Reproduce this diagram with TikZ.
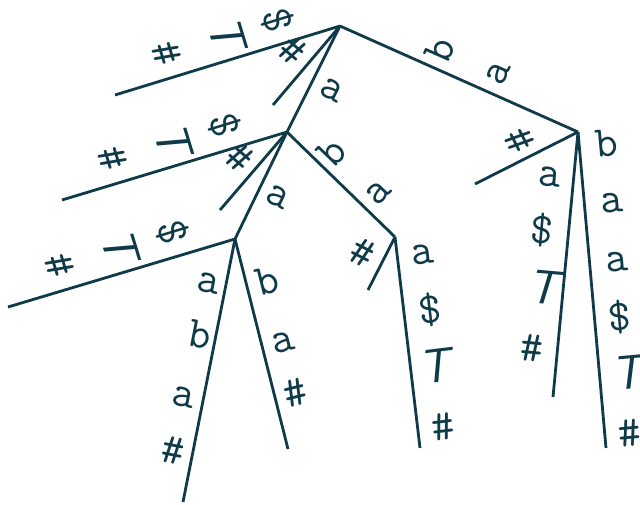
\documentclass[tikz,border=0pt]{standalone}
\usepackage{fontspec}
\definecolor{ink}{RGB}{14,58,74}
\tikzset{
  edge/.style={draw=ink, line width=2.8pt},
  lbl/.style={text=ink, font=\fontsize{44}{48}\selectfont\ttfamily, inner sep=0pt, anchor=center},
}
\newcommand{\TT}{{\fontsize{48}{52}\selectfont\sffamily\itshape T}}
\begin{document}
\begin{tikzpicture}[x=1pt,y=-1pt]
\useasboundingbox (0,0) rectangle (640,504);
% tree nodes
\coordinate (R) at (340,26);
\coordinate (L1) at (115,95);
\coordinate (S1) at (273,105);
\coordinate (N1) at (287,132);
\coordinate (N4) at (578,132);
\coordinate (L2) at (62,200);
\coordinate (S2) at (220,210);
\coordinate (N2) at (235,239);
\coordinate (N3) at (395,237);
\coordinate (L3) at (8,307);
\coordinate (L4) at (183,502);
\coordinate (L5) at (288,449);
\coordinate (S3) at (368,290);
\coordinate (L6) at (420,448);
\coordinate (S4) at (475,184);
\coordinate (L7) at (553,397);
\coordinate (L8) at (606,448);
% edges
\draw[edge] (R) -- (L1);
\draw[edge] (R) -- (S1);
\draw[edge] (R) -- (N1);
\draw[edge] (R) -- (N4);
\draw[edge] (N1) -- (L2);
\draw[edge] (N1) -- (S2);
\draw[edge] (N1) -- (N2);
\draw[edge] (N1) -- (N3);
\draw[edge] (N2) -- (L3);
\draw[edge] (N2) -- (L4);
\draw[edge] (N2) -- (L5);
\draw[edge] (N3) -- (S3);
\draw[edge] (N3) -- (L6);
\draw[edge] (N4) -- (S4);
\draw[edge] (N4) -- (L7);
\draw[edge] (N4) -- (L8);
% labels R-L1
\node[lbl, rotate=-73] (t1) at (278,20) {\$};
\node[lbl, rotate=-73] (t2) at (227,33) {\TT};
\node[lbl, rotate=-73] (t3) at (167,53) {\#};
% R-S1
\node[lbl, rotate=-40] (t4) at (293,50) {\#};
% R-N1
\node[lbl, rotate=-27] (t5) at (332,90) {a};
% R-N4
\node[lbl, rotate=66] (t6) at (440,50) {b};
\node[lbl, rotate=66] (t7) at (498,73) {a};
% N1-L2
\node[lbl, rotate=-73] (t8) at (225,125) {\$};
\node[lbl, rotate=-73] (t9) at (173,139) {\TT};
\node[lbl, rotate=-73] (t10) at (113,158) {\#};
% N1-S2
\node[lbl, rotate=-41] (t11) at (240,158) {\#};
% N1-N2
\node[lbl, rotate=-26] (t12) at (278,197) {a};
% N1-N3
\node[lbl, rotate=46] (t13) at (332,152) {b};
\node[lbl, rotate=46] (t14) at (378,193) {a};
% N2-L3
\node[lbl, rotate=-73] (t15) at (173,232) {\$};
\node[lbl, rotate=-73] (t16) at (120,245) {\TT};
\node[lbl, rotate=-73] (t17) at (60,265) {\#};
% N2-L4
\node[lbl, rotate=-11] (t18) at (208,283) {a};
\node[lbl, rotate=-11] (t19) at (200,335) {b};
\node[lbl, rotate=-11] (t20) at (183,397) {a};
\node[lbl, rotate=-11] (t21) at (173,450) {\#};
% N2-L5
\node[lbl, rotate=14] (t22) at (267,281) {b};
\node[lbl, rotate=14] (t23) at (283,342) {a};
\node[lbl, rotate=14] (t24) at (295,393) {\#};
% N3-S3
\node[lbl, rotate=-27] (t25) at (363,253) {\#};
% N3-L6
\node[lbl, rotate=7] (t26) at (423,255) {a};
\node[lbl, rotate=7] (t27) at (430,310) {\$};
\node[lbl, rotate=7] (t28) at (435,366) {\TT};
\node[lbl, rotate=7] (t29) at (443,427) {\#};
% N4-S4
\node[lbl, rotate=-63] (t30) at (520,140) {\#};
% N4-L7
\node[lbl, rotate=-5] (t31) at (550,177) {a};
\node[lbl, rotate=-5] (t32) at (542,230) {\$};
\node[lbl, rotate=-5] (t33) at (543,287) {\TT};
\node[lbl, rotate=-5] (t34) at (532,348) {\#};
% N4-L8
\node[lbl, rotate=5] (t35) at (607,143) {b};
\node[lbl, rotate=5] (t36) at (612,203) {a};
\node[lbl, rotate=5] (t37) at (617,262) {a};
\node[lbl, rotate=5] (t38) at (620,317) {\$};
\node[lbl, rotate=5] (t39) at (627,373) {\TT};
\node[lbl, rotate=5] (t40) at (630,433) {\#};
\end{tikzpicture}
\end{document}
